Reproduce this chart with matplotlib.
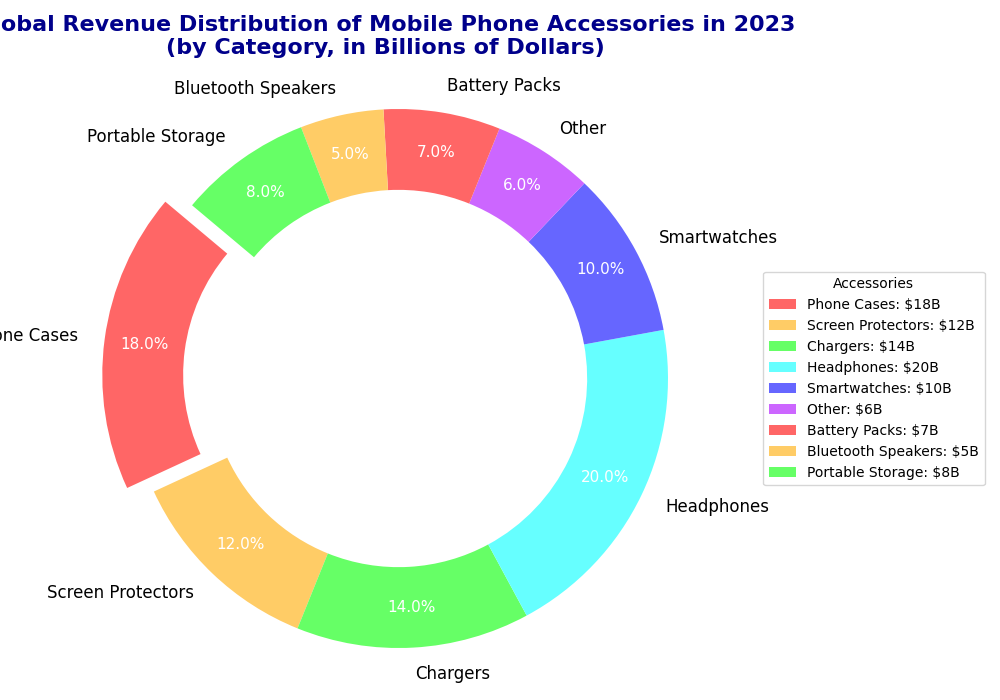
import matplotlib.pyplot as plt

# ==============================
# Data
# ==============================
categories = ["Phone Cases", "Screen Protectors", "Chargers", "Headphones", "Smartwatches",
              "Other", "Battery Packs", "Bluetooth Speakers", "Portable Storage"]
revenue = [18, 12, 14, 20, 10, 6, 7, 5, 8]
colors = ["#ff6666", "#ffcc66", "#66ff66", "#66ffff", "#6666ff",
          "#cc66ff", "#ff6666", "#ffcc66", "#66ff66"]
explode = [0.1, 0, 0, 0, 0, 0, 0, 0, 0]

fig, ax = plt.subplots(figsize=(10, 7))

wedges, texts, autotexts = ax.pie(
    revenue, labels=categories, colors=colors, explode=explode,
    autopct="%1.1f%%", startangle=140, pctdistance=0.85,
    wedgeprops=dict(width=0.3), textprops=dict(fontsize=12))

for t in autotexts:
    t.set_color("white")
    t.set_fontsize(11)

ax.set_title("Global Revenue Distribution of Mobile Phone Accessories in 2023\n(by Category, in Billions of Dollars)",
             fontsize=16, fontweight="bold", color="darkblue")

legend_labels = [f"{c}: ${v}B" for c, v in zip(categories, revenue)]
leg = ax.legend(wedges, legend_labels, title="Accessories", loc="center left",
                bbox_to_anchor=(1, 0, 0.5, 1))
ax.axis("equal")

plt.tight_layout()

# fine-tune pie size / placement (pixels, origin bottom-left)
fig.canvas.draw()
bb = ax.get_window_extent()
cx, cy, scale = 398.5, 700 - 378.5, 269.5
ax.set_aspect("auto")
ax.set_xlim((bb.x0 - cx) / scale, (bb.x1 - cx) / scale)
ax.set_ylim((bb.y0 - cy) / scale, (bb.y1 - cy) / scale)
leg.set_bbox_to_anchor((0.756, cy / 700), transform=fig.transFigure)

plt.savefig("out.png", dpi=100)
